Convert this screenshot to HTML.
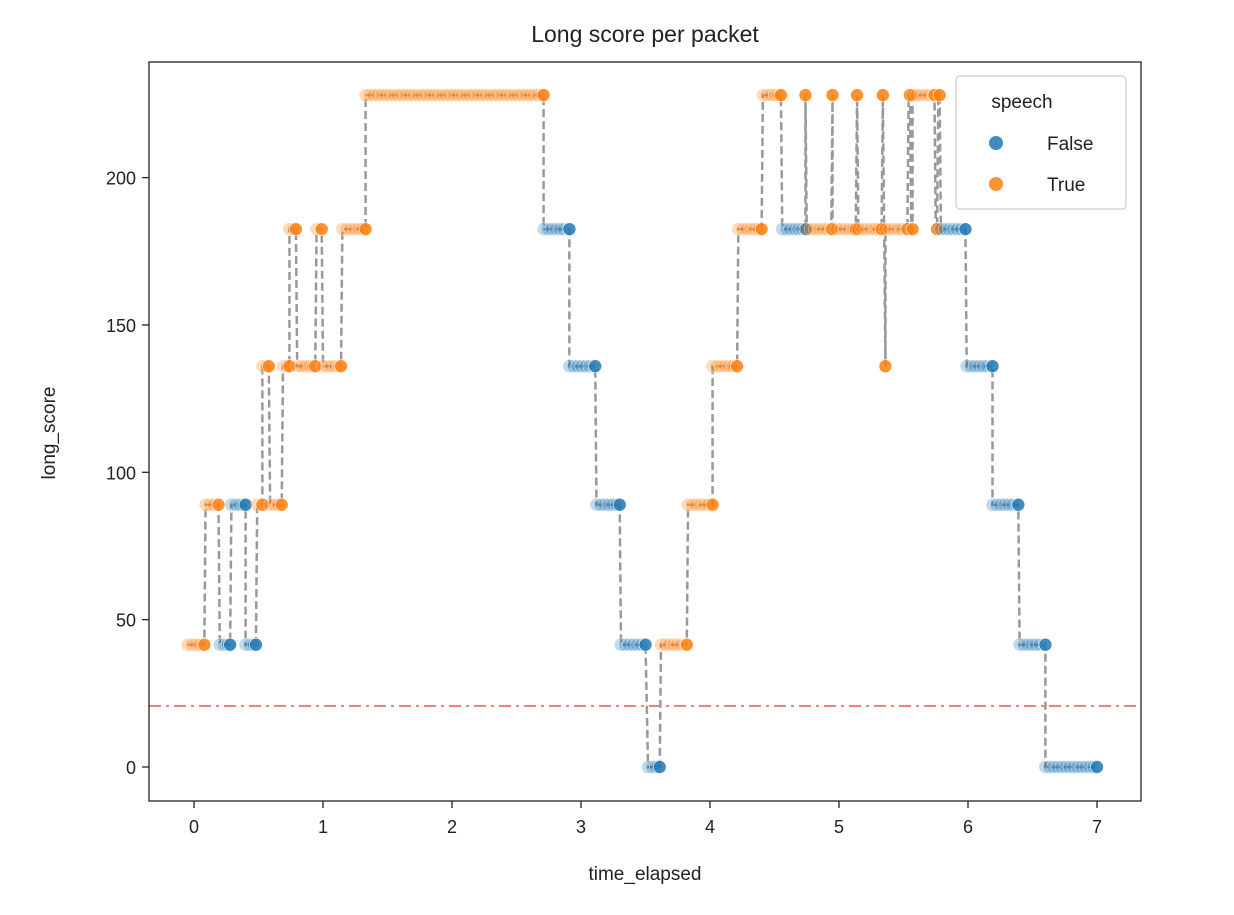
<!DOCTYPE html>
<html><head><meta charset="utf-8"><style>
body{margin:0;background:#fff;}
svg text{font-family:"Liberation Sans","DejaVu Sans",sans-serif;fill:#222;}
</style></head><body>
<svg id="chart" width="1234" height="910" viewBox="0 0 1234 910" xmlns="http://www.w3.org/2000/svg">
<rect x="0" y="0" width="1234" height="910" fill="#fff"/>
<text x="645" y="42" text-anchor="middle" font-size="23">Long score per packet</text>
<g id="plot"></g>
<rect x="149" y="62" width="992" height="739" fill="none" stroke="#222" stroke-width="1.3"/>
<g id="axes"></g>
<text x="645" y="880" text-anchor="middle" font-size="19">time_elapsed</text>
<text x="0" y="0" transform="translate(55,433) rotate(-90)" text-anchor="middle" font-size="19">long_score</text>
<g>
<rect x="956" y="76" width="170" height="133" rx="4" fill="#fff" fill-opacity="0.85" stroke="#ccc" stroke-width="1.2"/>
<text x="1022" y="108" text-anchor="middle" font-size="19">speech</text>
<circle cx="996" cy="143" r="7" fill="#1f77b4" fill-opacity="0.85"/>
<text x="1047" y="150" font-size="19">False</text>
<circle cx="996" cy="184" r="7" fill="#ff7f0e" fill-opacity="0.85"/>
<text x="1047" y="191" font-size="19">True</text>
</g>
</svg>
<script>
const runStart = [-0.05,0.09,0.20,0.29,0.40,0.49,0.53,0.59,0.69,0.74,0.80,0.95,1.00,1.15,1.33,2.71,2.91,3.12,3.31,3.52,3.62,3.83,4.02,4.22,4.41,4.56,4.74,4.75,4.95,4.95,5.14,5.15,5.34,5.36,5.36,5.54,5.56,5.57,5.75,5.77,5.79,5.99,6.19,6.40,6.60];
const runEnd   = [0.08,0.19,0.28,0.40,0.48,0.53,0.58,0.68,0.74,0.79,0.94,0.99,1.14,1.33,2.71,2.91,3.11,3.30,3.50,3.61,3.82,4.02,4.21,4.40,4.55,4.74,4.74,4.94,4.95,5.13,5.14,5.33,5.34,5.36,5.53,5.55,5.57,5.74,5.76,5.78,5.98,6.19,6.39,6.60,7.00];
const runScore = [41.5,89,41.5,89,41.5,89,136,89,136,182.5,136,182.5,136,182.5,228,182.5,136,89,41.5,0,41.5,89,136,182.5,228,182.5,228,182.5,228,182.5,228,182.5,228,136,182.5,228,182.5,228,182.5,228,182.5,136,89,41.5,0];
const runSpeech= [1,1,0,0,0,1,1,1,1,1,1,1,1,1,1,0,0,0,0,0,1,1,1,1,1,0,1,1,1,1,1,1,1,1,1,1,1,1,1,1,0,0,0,0,0];
const xTicks = [0,1,2,3,4,5,6,7];
const yTicks = [0,50,100,150,200];
const threshold = 20.7;

const X0=194, XS=129, Y0=767, YS=2.947;
const sx = t => X0 + t*XS;
const sy = v => Y0 - v*YS;
const NS='http://www.w3.org/2000/svg';
const plot=document.getElementById('plot'), axes=document.getElementById('axes');
function mk(tag, attrs, parent){const e=document.createElementNS(NS,tag);for(const k in attrs)e.setAttribute(k,attrs[k]);parent.appendChild(e);return e;}

const th = mk('line',{x1:149,x2:1141,y1:sy(threshold),y2:sy(threshold),stroke:'#f08080','stroke-width':2,'stroke-dasharray':'12,5,3,5'},plot);



let d='';
for(let i=0;i<runStart.length;i++){
  d += (i===0?'M':'L')+sx(runStart[i])+','+sy(runScore[i])+' L'+sx(runEnd[i])+','+sy(runScore[i])+' ';
}
const ln = mk('path',{d:d,fill:'none',stroke:'#999','stroke-width':2.5,'stroke-dasharray':'8,4'},plot);



for(let i=0;i<runStart.length;i++){
  const col = runSpeech[i] ? '#ff7f0e' : '#1f77b4';
  const g = mk('g',{},plot);
  
  
  const a=sx(runStart[i]), b=sx(runEnd[i]), y=sy(runScore[i]);
  for(let x=a; x<b-2; x+=4){
    const c = mk('circle',{cx:x,cy:y,r:6.5,fill:col,'fill-opacity':0.28,stroke:'#fff','stroke-width':0.6,'stroke-opacity':0.5},g);
    
    
  }
  const s = mk('circle',{cx:b,cy:y,r:6.5,fill:col,'fill-opacity':0.85,stroke:'#fff','stroke-width':0.6},g);
  
  
}

xTicks.forEach(t=>{
  const l=mk('line',{x1:sx(t),x2:sx(t),y1:801,y2:808,stroke:'#222','stroke-width':1.3},axes);
  
  
  const tx=mk('text',{x:sx(t),y:833,'text-anchor':'middle','font-size':18},axes);
  tx.textContent=t;
  
  
});
yTicks.forEach(v=>{
  const l=mk('line',{x1:142,x2:149,y1:sy(v),y2:sy(v),stroke:'#222','stroke-width':1.3},axes);
  
  
  const tx=mk('text',{x:136,y:sy(v)+7,'text-anchor':'end','font-size':18},axes);
  tx.textContent=v;
  
  
});
</script>
</body></html>
